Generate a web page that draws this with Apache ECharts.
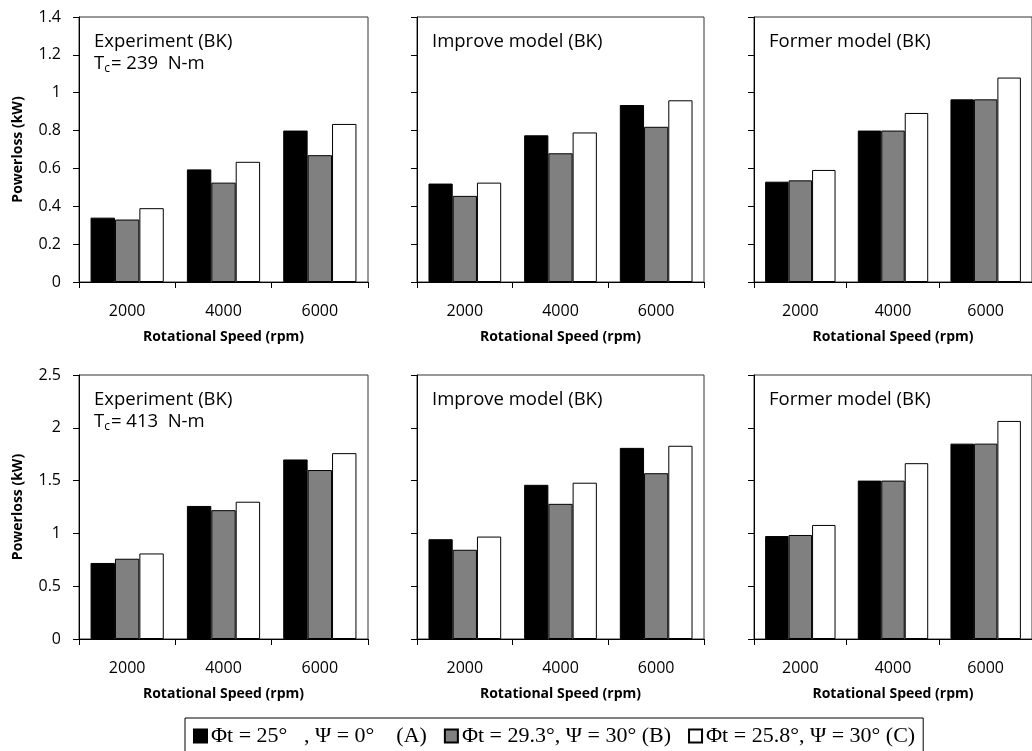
<!DOCTYPE html>
<html>
<head>
<meta charset="utf-8">
<script src="https://cdn.jsdelivr.net/npm/echarts@6/dist/echarts.min.js"></script>
<style>
html,body{margin:0;padding:0;background:#fff;}
#chart{width:1032px;height:751px;}
</style>
</head>
<body>
<div id="chart"></div>
<script>
// ---------- data ----------
var categories = ['2000', '4000', '6000'];
var seriesNames = ['\u03A6t = 25\u00B0   , \u03A8 = 0\u00B0    (A)', '\u03A6t = 29.3\u00B0, \u03A8 = 30\u00B0 (B)', '\u03A6t = 25.8\u00B0, \u03A8 = 30\u00B0 (C)'];
var panelTitles = ['Experiment (BK)', 'Improve model (BK)', 'Former model (BK)'];
var torqueLabels = ['239', '413'];
var yLabelTop = ['0', '0.2', '0.4', '0.6', '0.8', '1', '1.2', '1.4'];
var yLabelBottom = ['0', '0.5', '1', '1.5', '2', '2.5'];

// Tc = 239 N-m
var expA239 = [0.34, 0.595, 0.80];
var expB239 = [0.33, 0.525, 0.67];
var expC239 = [0.39, 0.635, 0.835];
var impA239 = [0.52, 0.775, 0.935];
var impB239 = [0.455, 0.68, 0.82];
var impC239 = [0.525, 0.79, 0.96];
var forA239 = [0.53, 0.80, 0.965];
var forB239 = [0.537, 0.80, 0.965];
var forC239 = [0.592, 0.893, 1.08];
// Tc = 413 N-m
var expA413 = [0.72, 1.26, 1.70];
var expB413 = [0.76, 1.22, 1.60];
var expC413 = [0.81, 1.30, 1.76];
var impA413 = [0.945, 1.46, 1.81];
var impB413 = [0.845, 1.28, 1.57];
var impC413 = [0.97, 1.48, 1.83];
var forA413 = [0.975, 1.50, 1.85];
var forB413 = [0.985, 1.50, 1.85];
var forC413 = [1.08, 1.665, 2.065];

var panelData = [
  [[expA239, expB239, expC239], [impA239, impB239, impC239], [forA239, forB239, forC239]],
  [[expA413, expB413, expC413], [impA413, impB413, impC413], [forA413, forB413, forC413]]
];

// ---------- layout ----------
var colLeft = [79, 417, 754];
var colWidth = [289, 287, 288];
var rowTop = [17, 375];
var rowHeight = [265, 264];
var rowMax = [1.4, 2.5];
var rowInterval = [0.2, 0.5];
var fills = ['#000000', '#808080', '#ffffff'];
var FONT = 'Open Sans';

var grids = [], xAxes = [], yAxes = [], series = [], titles = [];
var idx = 0;
for (var r = 0; r < 2; r++) {
  for (var c = 0; c < 3; c++) {
    grids.push({
      left: colLeft[c], top: rowTop[r], width: colWidth[c], height: rowHeight[r],
      show: true, borderColor: '#333', borderWidth: 1, backgroundColor: 'transparent',
      containLabel: false
    });
    xAxes.push({
      type: 'category', gridIndex: idx, data: categories, boundaryGap: true,
      axisLine: {show: true, lineStyle: {color: '#000', width: 1}},
      axisTick: {show: true, alignWithLabel: false, length: 6, lineStyle: {color: '#000'}},
      axisLabel: {show: true, color: '#000', fontFamily: FONT, fontSize: 16, margin: 21},
      name: 'Rotational Speed (rpm)', nameLocation: 'middle', nameGap: 48,
      nameTextStyle: {color: '#000', fontFamily: FONT, fontSize: 14, fontWeight: 'bold'},
      splitLine: {show: false}
    });
    var labels = r === 0 ? yLabelTop : yLabelBottom;
    yAxes.push({
      type: 'value', gridIndex: idx, min: 0, max: rowMax[r], interval: rowInterval[r],
      axisLine: {show: true, lineStyle: {color: '#000', width: 1}},
      axisTick: {show: true, length: 6, lineStyle: {color: '#000'}},
      axisLabel: {show: c === 0, color: '#000', fontFamily: FONT, fontSize: 16, margin: 18,
        formatter: (function (lb, intv) { return function (v) { return lb[Math.round(v / intv)]; }; })(labels, rowInterval[r])},
      name: c === 0 ? 'Powerloss (kW)' : '', nameLocation: 'middle', nameGap: 54, nameRotate: 90,
      nameTextStyle: {color: '#000', fontFamily: FONT, fontSize: 14, fontWeight: 'bold'},
      splitLine: {show: false}
    });
    for (var s = 0; s < 3; s++) {
      series.push({
        type: 'bar', name: seriesNames[s], xAxisIndex: idx, yAxisIndex: idx,
        data: panelData[r][c][s],
        barGap: '0%', barCategoryGap: '24%',
        itemStyle: {color: fills[s], borderColor: '#000', borderWidth: 1},
        emphasis: {disabled: true}
      });
    }
    var txt = '{n|' + panelTitles[c] + '}';
    if (c === 0) txt += '\n{n|T}{s|c}{n|= ' + torqueLabels[r] + '  N-m}';
    titles.push({
      text: txt, left: colLeft[c] + 15, top: rowTop[r] + 14, padding: 0,
      textStyle: {
        fontFamily: FONT, fontSize: 18.5, fontWeight: 'normal', color: '#000',
        rich: {
          n: {fontFamily: FONT, fontSize: 18.5, color: '#000', lineHeight: 22},
          s: {fontFamily: FONT, fontSize: 12, color: '#000', lineHeight: 22, verticalAlign: 'bottom', padding: [9, 1, 0, 0]}
        }
      }
    });
    idx++;
  }
}

var chart = echarts.init(document.getElementById('chart'), null, {renderer: 'canvas'});
chart.setOption({
  animation: false,
  backgroundColor: '#fff',
  title: titles,
  grid: grids,
  xAxis: xAxes,
  yAxis: yAxes,
  legend: {
    data: seriesNames,
    left: 185, top: 718,
    orient: 'horizontal',
    icon: 'rect', itemWidth: 13, itemHeight: 13, itemGap: 17,
    borderColor: '#000', borderWidth: 1, padding: [7, 8, 8, 8],
    textStyle: {fontFamily: 'Liberation Serif', fontSize: 22, color: '#000', padding: [0, 0, 0, -1]},
    selectedMode: false
  },
  series: series
});
</script>
</body>
</html>
